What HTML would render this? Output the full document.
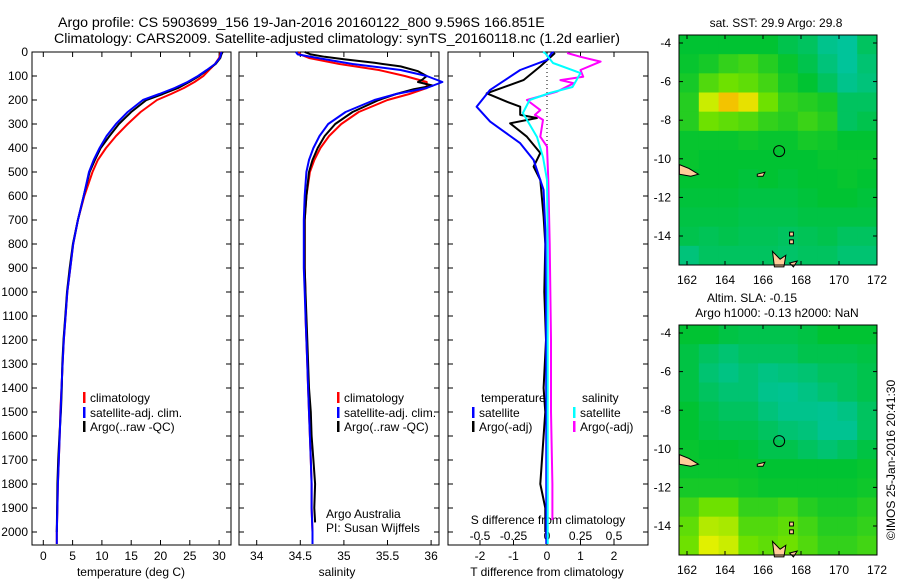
<!DOCTYPE html>
<html><head><meta charset="utf-8"><style>
html,body{margin:0;padding:0;background:#fff;}
svg{display:block;font-family:"Liberation Sans",sans-serif;}
text{fill:#000;}
</style></head><body>
<svg id="fig" width="900" height="580" viewBox="0 0 900 580" xmlns="http://www.w3.org/2000/svg">
<text x="58" y="27" font-size="14.2">Argo profile: CS 5903699_156 19-Jan-2016 20160122_800 9.596S 166.851E</text>
<text x="54" y="43" font-size="14.2">Climatology: CARS2009. Satellite-adjusted climatology: synTS_20160118.nc (1.2d earlier)</text>
<text x="776" y="27" font-size="12" text-anchor="middle">sat. SST: 29.9 Argo: 29.8</text>
<text x="752" y="302" font-size="12" text-anchor="middle">Altim. SLA: -0.15</text>
<text x="777" y="317" font-size="12" text-anchor="middle">Argo h1000: -0.13 h2000: NaN</text>
<text font-size="12" text-anchor="middle" transform="translate(895,460) rotate(-90)">©IMOS 25-Jan-2016 20:41:30</text>
<g id="plots"></g>
</svg>
<script>
// ---------- data ----------
const depthTicks = [0,100,200,300,400,500,600,700,800,900,1000,1100,1200,1300,1400,1500,1600,1700,1800,1900,2000];
const tempTicks = [0,5,10,15,20,25,30];
const salTicks = [34,34.5,35,35.5,36];
const salTickLabels = ["34","34.5","35","35.5","36"];
const tdiffTicks = [-2,-1,0,1,2];
const sdiffTicks = [-0.5,-0.25,0,0.25,0.5];
const sdiffTickLabels = ["-0.5","-0.25","0","0.25","0.5"];

const climDepth = [0,10,25,50,75,100,125,150,175,200,250,300,350,400,450,500,600,700,800,900,1000,1100,1200,1300,1400,1500,1600,1700,1800,1900,2000,2050];
const tempClim = [30.3,30.2,30,29.3,28.3,27.3,25.8,24,21.8,19.4,16.6,14.4,12.4,10.7,9.3,8.4,7.0,5.9,5.1,4.6,4.1,3.8,3.5,3.3,3.1,2.9,2.8,2.65,2.5,2.4,2.3,2.3];
const tempSat = [30.4,30.3,30.1,29.3,27.9,26.4,24.6,22.4,19.8,17.0,14.4,12.4,10.8,9.6,8.6,7.8,6.9,5.9,5.1,4.6,4.1,3.8,3.5,3.3,3.1,2.95,2.8,2.65,2.5,2.4,2.3,2.3];
const argoDepth = [0,10,25,50,75,100,125,150,175,200,250,300,350,400,450,500,600,700,800,900,1000,1100,1200,1300,1400,1500,1600,1700,1800,1900,2000];
const tempArgo = [30.6,30.4,30.2,29.4,28.0,26.6,24.9,23.0,20.4,17.6,15.0,12.9,11.3,9.8,8.8,7.9,6.9,5.9,5.05,4.5,4.05,3.75,3.45,3.25,3.15,3.0,2.75,2.55,2.4,2.35,2.3];
const salClim = [34.48,34.5,34.6,34.95,35.4,35.7,35.95,35.95,35.75,35.5,35.17,34.97,34.83,34.73,34.66,34.61,34.57,34.55,34.55,34.55,34.56,34.56,34.57,34.58,34.59,34.6,34.61,34.62,34.63,34.63,34.64,34.64];
const salSat = [34.45,34.47,34.7,35.1,35.65,35.95,36.13,35.95,35.6,35.35,35.02,34.82,34.72,34.65,34.6,34.57,34.55,34.54,34.54,34.54,34.55,34.56,34.57,34.58,34.59,34.6,34.61,34.62,34.63,34.63,34.64,34.64];
const salArgoDepth = [0,10,20,30,45,60,80,100,115,125,140,155,175,200,250,300,350,400,450,500,600,700,800,900,1000,1200,1400,1500,1600,1700,1800,1900,1960];
const salArgo = [34.55,34.62,34.78,35.0,35.35,35.65,35.85,35.95,35.9,35.85,36.02,35.8,35.6,35.4,35.1,34.9,34.78,34.7,34.64,34.6,34.57,34.55,34.55,34.55,34.56,34.58,34.6,34.62,34.63,34.65,34.67,34.66,34.67];

const dTSatDepth = [0,4,33,75,158,228,290,380,450,575,740,1000,1500,2050];
const dTSat = [0.2,0.14,0,-0.8,-1.7,-2.1,-1.7,-0.8,-0.4,-0.1,-0.05,-0.03,-0.02,-0.02];
const dTArgoDepth = [4,60,117,172,207,228,262,275,297,353,421,478,533,686,800,1000,1200,1400,1500,1600,1800,1900,2000];
const dTArgo = [0.24,-0.2,-0.7,-1.8,-1.2,-0.8,-0.8,-0.3,-1.1,-0.6,-0.2,-0.4,-0.2,-0.1,-0.05,-0.08,-0.03,-0.1,-0.05,-0.1,-0.2,-0.05,-0.05];
const dSSatDepth = [0,4,46,88,146,171,200,254,354,438,533,800,1200,2050];
const dSSat = [-0.03,-0.015,0.045,0.25,0.19,0.02,-0.13,-0.18,-0.075,-0.03,0,0.005,0.005,0.005];
const dSArgoDepth = [4,20,40,75,103,117,130,165,200,242,262,283,353,394,533,800,1200,1500,1800,1950];
const dSArgo = [0.15,0.25,0.4,0.25,0.27,0.1,0.2,0.075,-0.15,-0.05,-0.09,-0.03,-0.05,0,0.01,0.02,0.03,0.03,0.04,0.04];

const lonTicks = [162,164,166,168,170,172];
const latTicks = [-4,-6,-8,-10,-12,-14];
const sstGrid = [
[.55,.55,.55,.55,.55,.52,.5,.45,.42,.5],
[.56,.58,.62,.64,.6,.56,.52,.47,.42,.48],
[.58,.66,.7,.68,.64,.58,.55,.5,.45,.47],
[.6,.78,.86,.82,.7,.62,.6,.58,.5,.5],
[.6,.7,.68,.66,.62,.6,.63,.6,.5,.52],
[.56,.56,.56,.57,.56,.56,.58,.57,.55,.55],
[.56,.55,.55,.55,.55,.55,.55,.56,.56,.56],
[.55,.55,.55,.54,.55,.54,.55,.55,.56,.55],
[.54,.54,.54,.53,.53,.53,.54,.55,.55,.54],
[.53,.53,.53,.52,.52,.52,.53,.53,.53,.53],
[.52,.51,.52,.51,.51,.5,.51,.52,.5,.5],
[.47,.5,.5,.5,.5,.49,.5,.5,.48,.48]];
const slaGrid = [
[.55,.55,.53,.52,.52,.52,.53,.55,.55,.55],
[.53,.5,.48,.5,.5,.5,.52,.52,.52,.53],
[.53,.48,.46,.48,.46,.47,.48,.5,.5,.52],
[.53,.5,.48,.48,.45,.44,.46,.48,.5,.52],
[.55,.52,.5,.5,.47,.45,.45,.44,.46,.5],
[.55,.53,.52,.52,.5,.48,.47,.44,.44,.5],
[.56,.55,.55,.54,.52,.52,.5,.48,.5,.53],
[.56,.56,.56,.56,.55,.55,.55,.55,.55,.56],
[.58,.58,.58,.57,.56,.56,.56,.56,.56,.57],
[.64,.7,.7,.62,.62,.64,.6,.58,.58,.6],
[.68,.76,.75,.66,.66,.68,.64,.6,.6,.62],
[.7,.8,.78,.7,.68,.7,.66,.62,.62,.64]];
const argoLon = 166.85, argoLat = -9.6;

// ---------- helpers ----------
const NS = "http://www.w3.org/2000/svg";
const root = document.getElementById('plots');
function el(tag, attrs, parent){ const e=document.createElementNS(NS,tag); for(const k in attrs) e.setAttribute(k,attrs[k]); (parent||root).appendChild(e); return e; }
const Y0=52, Y1=545;
const yD = d => Y0 + d*0.24;
const xT = t => 43.3 + t*5.86;
const xS = s => 256.7 + (s-34)*87.2;
const xDT = t => 547 + t*33.5;
const xDS = s => 547 + s*134;
function line(xs, ds, fx, color, w, name){
  const pts = xs.map((v,i)=>fx(v).toFixed(1)+','+yD(ds[i]).toFixed(1)).join(' ');
  const p = el('polyline',{points:pts,fill:'none',stroke:color,'stroke-width':w,'stroke-linejoin':'round'});
  
  
}
function frame(x0,x1,name){
  const r = el('rect',{x:x0,y:Y0,width:x1-x0,height:Y1-Y0,fill:'none',stroke:'#000','stroke-width':1});
  
  
  depthTicks.forEach(d=>{ el('line',{x1:x0,x2:x0+5,y1:yD(d),y2:yD(d),stroke:'#000'}); el('line',{x1:x1-5,x2:x1,y1:yD(d),y2:yD(d),stroke:'#000'}); });
}
function xticks(vals, labels, fx, ly, name){
  vals.forEach((v,i)=>{ const x=fx(v); el('line',{x1:x,x2:x,y1:Y1,y2:Y1-5,stroke:'#000'}); el('line',{x1:x,x2:x,y1:Y0,y2:Y0+5,stroke:'#000'});
    const t=el('text',{x:x,y:ly,'font-size':12,'text-anchor':'middle'}); t.textContent=labels[i];
    
     });
}
function label(x,y,s,name,anchor,size){ const t=el('text',{x:x,y:y,'font-size':size||12,'text-anchor':anchor||'start'}); t.textContent=s;
  
   return t; }
function legend(x,y,color,s,name){ el('rect',{x:x,y:y-10,width:2.5,height:11,fill:color}); label(x+7,y,s,name); }

// ---------- panel 1: temperature ----------
frame(32,231,'temperature-axes');
depthTicks.forEach(d=>label(28,yD(d)+4,String(d),'depth-tick-label','end'));
xticks(tempTicks, tempTicks.map(String), xT, 560, 'temperature-tick-label');
label(131,576,'temperature (deg C)','temperature-axis-title','middle');
line(tempClim, climDepth, xT, '#f00', 2, 'temp-climatology-line');
line(tempArgo, argoDepth, xT, '#000', 2, 'temp-argo-line');
line(tempSat, climDepth, xT, '#00f', 2, 'temp-satellite-line');
legend(83,402,'#f00','climatology','legend-climatology');
legend(83,417,'#00f','satellite-adj. clim.','legend-satellite');
legend(83,431,'#000','Argo(..raw -QC)','legend-argo');

// ---------- panel 2: salinity ----------
frame(239,439,'salinity-axes');
xticks(salTicks, salTickLabels, xS, 560, 'salinity-tick-label');
label(337,576,'salinity','salinity-axis-title','middle');
line(salClim, climDepth, xS, '#f00', 2, 'sal-climatology-line');
line(salArgo, salArgoDepth, xS, '#000', 2, 'sal-argo-line');
line(salSat, climDepth, xS, '#00f', 2, 'sal-satellite-line');
legend(337,402,'#f00','climatology','legend-climatology');
legend(337,417,'#00f','satellite-adj. clim.','legend-satellite');
legend(337,431,'#000','Argo(..raw -QC)','legend-argo');
label(326,518,'Argo Australia','argo-australia-credit');
label(326,532,'PI: Susan Wijffels','pi-credit');

// ---------- panel 3: differences ----------
frame(448,648,'difference-axes');
el('line',{x1:xDT(0),x2:xDT(0),y1:Y0,y2:yD(430),stroke:'#000','stroke-dasharray':'1,3'});
xticks(tdiffTicks, tdiffTicks.map(String), xDT, 560, 't-difference-tick-label');
sdiffTicks.forEach((v,i)=>label(xDS(v),540,sdiffTickLabels[i],'s-difference-tick-label','middle'));
label(548,524,'S difference from climatology','s-difference-axis-title','middle');
label(547,576,'T difference from climatology','t-difference-axis-title','middle');
line(dTArgo, dTArgoDepth, xDT, '#000', 2, 't-diff-argo-line');
line(dSArgo, dSArgoDepth, xDS, '#f0f', 2, 's-diff-argo-line');
line(dTSat, dTSatDepth, xDT, '#00f', 2, 't-diff-satellite-line');
line(dSSat, dSSatDepth, xDS, '#0ff', 2, 's-diff-satellite-line');
label(481,402,'temperature','legend-temperature-heading');
label(582,402,'salinity','legend-salinity-heading');
legend(472,417,'#00f','satellite','legend-t-satellite');
legend(472,431,'#000','Argo(-adj)','legend-t-argo');
legend(573,417,'#0ff','satellite','legend-s-satellite');
legend(573,431,'#f0f','Argo(-adj)','legend-s-argo');

// ---------- maps ----------
const cstops=[[0,[0,0,160]],[0.25,[0,200,230]],[0.45,[0,195,140]],[0.55,[0,195,50]],[0.7,[110,225,0]],[0.8,[225,240,0]],[0.9,[255,165,0]],[1,[255,0,0]]];
function cmap(v){ for(let i=1;i<cstops.length;i++){ if(v<=cstops[i][0]){ const a=cstops[i-1],b=cstops[i],f=(v-a[0])/(b[0]-a[0]); return 'rgb('+a[1].map((c,j)=>Math.round(c+(b[1][j]-c)*f)).join(',')+')'; } } return 'rgb(255,0,0)'; }
function drawMap(top, grid, name){
  const X0=679,X1=877,Yt=top,Yb=top+230;
  const lonX = lon => 687 + (lon-162)*19;
  const latY = lat => top + 8 + (-4-lat)*19.3;
  const g = el('g',{});
  
  
  const rows=grid.length, cols=grid[0].length, cw=(X1-X0)/cols, ch=(Yb-Yt)/rows;
  grid.forEach((row,r)=>row.forEach((v,c)=>{ el('rect',{x:X0+c*cw,y:Yt+r*ch,width:cw+0.5,height:ch+0.5,fill:cmap(v)},g); }));
  const isl=[[[161.6,-10.3],[162.1,-10.5],[162.6,-10.8],[162.2,-10.9],[161.6,-10.8]],[[166.5,-14.8],[166.9,-15.2],[167.2,-15.0],[167.1,-15.6],[166.6,-15.6]],[[165.7,-10.8],[166.1,-10.7],[166.0,-10.9],[165.7,-10.9]],[[167.4,-15.4],[167.8,-15.3],[167.6,-15.6]],[[167.4,-13.8],[167.6,-13.8],[167.6,-14.0],[167.4,-14.0]],[[167.4,-14.2],[167.6,-14.2],[167.6,-14.4],[167.4,-14.4]]];
  isl.forEach(p=>el('polygon',{points:p.map(q=>lonX(q[0]).toFixed(1)+','+latY(q[1]).toFixed(1)).join(' '),fill:'#fc9','stroke':'#000','stroke-width':1},g));
  el('circle',{cx:lonX(argoLon),cy:latY(argoLat),r:5.5,fill:'none',stroke:'#000','stroke-width':1},g);
  el('rect',{x:X0,y:Yt,width:X1-X0,height:Yb-Yt,fill:'none',stroke:'#000'},g);
  lonTicks.forEach(l=>{ const x=lonX(l); el('line',{x1:x,x2:x,y1:Yb,y2:Yb-4,stroke:'#000'},g); el('line',{x1:x,x2:x,y1:Yt,y2:Yt+4,stroke:'#000'},g);
    label(x,Yb+19,String(l),'longitude-tick-label','middle'); });
  latTicks.forEach(l=>{ const y=latY(l); el('line',{x1:X0,x2:X0+4,y1:y,y2:y,stroke:'#000'},g); el('line',{x1:X1-4,x2:X1,y1:y,y2:y,stroke:'#000'},g);
    label(X0-8,y+4,String(l),'latitude-tick-label','end'); });
}
drawMap(35, sstGrid, 'sst-map');
drawMap(325, slaGrid, 'sla-map');
</script>
</body></html>
